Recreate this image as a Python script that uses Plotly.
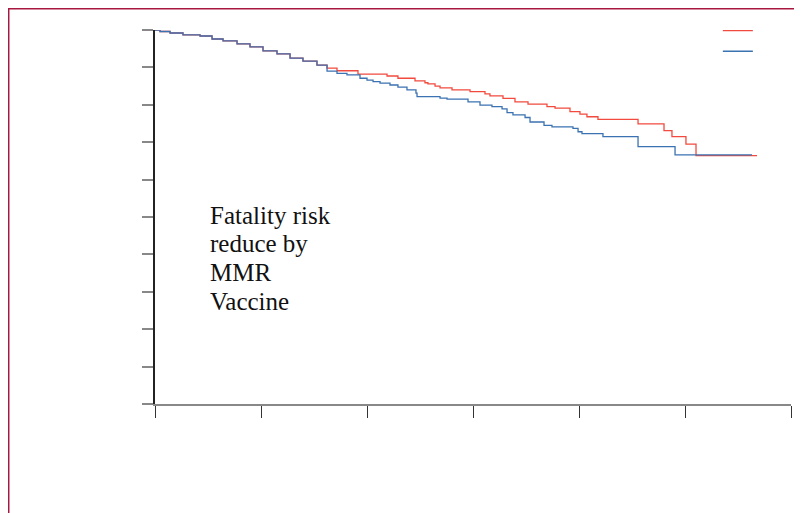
import plotly.graph_objects as go

# Survival (Kaplan-Meier style) data
time_red = [0, 0.047, 0.142, 0.264, 0.425, 0.538, 0.642, 0.774, 0.896, 1.019, 1.151, 1.274, 1.396, 1.528,
            1.623, 1.717, 1.915, 2.189, 2.292, 2.453, 2.547, 2.575, 2.642, 2.689, 2.802, 2.972, 3.113,
            3.160, 3.283, 3.396, 3.519, 3.698, 3.774, 3.915, 4.009, 4.075, 4.179, 4.557, 4.802, 4.877,
            5.009, 5.104, 5.679]
surv_red = [1.0, 0.996, 0.992, 0.987, 0.984, 0.976, 0.971, 0.963, 0.955, 0.944, 0.936, 0.925, 0.917, 0.906,
            0.898, 0.891, 0.882, 0.877, 0.871, 0.864, 0.859, 0.856, 0.850, 0.845, 0.840, 0.835, 0.829,
            0.824, 0.817, 0.808, 0.802, 0.795, 0.791, 0.782, 0.775, 0.768, 0.761, 0.749, 0.731, 0.715,
            0.695, 0.664, 0.664]

time_blue = [0, 0.047, 0.142, 0.264, 0.425, 0.538, 0.642, 0.774, 0.896, 1.019, 1.151, 1.274, 1.396, 1.528,
             1.623, 1.717, 1.811, 1.934, 2.0, 2.057, 2.123, 2.217, 2.292, 2.377, 2.462, 2.472, 2.689,
             2.755, 2.953, 3.066, 3.179, 3.274, 3.321, 3.377, 3.491, 3.538, 3.670, 3.745, 3.943, 3.991,
             4.028, 4.226, 4.557, 4.906, 5.632]
surv_blue = [1.0, 0.996, 0.992, 0.987, 0.984, 0.976, 0.971, 0.963, 0.955, 0.944, 0.936, 0.925, 0.917, 0.906,
             0.890, 0.884, 0.880, 0.871, 0.866, 0.862, 0.858, 0.853, 0.847, 0.840, 0.831, 0.822, 0.818,
             0.815, 0.808, 0.799, 0.795, 0.789, 0.779, 0.773, 0.766, 0.754, 0.745, 0.741, 0.737, 0.728,
             0.723, 0.715, 0.688, 0.666, 0.666]

x_ticks = [0, 1, 2, 3, 4, 5, 6]
y_ticks = [0, 0.1, 0.2, 0.3, 0.4, 0.5, 0.6, 0.7, 0.8, 0.9, 1.0]
note_lines = ["Fatality risk", "reduce by", "MMR", "Vaccine"]

fig = go.Figure()
fig.add_trace(go.Scatter(x=time_red, y=surv_red, mode="lines", line=dict(color="#f24a3e", width=1.3, shape="hv"),
                         name=" ", showlegend=True))
fig.add_trace(go.Scatter(x=time_blue, y=surv_blue, mode="lines", line=dict(color="#3b72b2", width=1.3, shape="hv"),
                         name=" ", showlegend=True))

for i, t in enumerate(note_lines):
    fig.add_annotation(x=0.0833, y=0.4634 - i * 0.077, xref="paper", yref="paper", text=t, showarrow=False,
                       xanchor="left", yanchor="bottom",
                       font=dict(family="Liberation Serif", size=25, color="#111"))

# figure border
fig.add_shape(type="rect", xref="paper", yref="paper", x0=-0.2300, y0=-0.4, x1=1.2, y1=1.0568,
              line=dict(color="#a8173f", width=1.5), layer="below")

fig.update_layout(
    width=802, height=513,
    margin=dict(l=147, r=19, t=22, b=117, autoexpand=False),
    plot_bgcolor="white", paper_bgcolor="white",
    showlegend=True,
    legend=dict(x=0.885, y=1.039, xanchor="left", yanchor="top", bgcolor="rgba(0,0,0,0)",
                font=dict(size=13.5), tracegroupgap=0, itemwidth=30),
    xaxis=dict(range=[0, 6], tickvals=x_ticks, showticklabels=False, ticks="outside", ticklen=12,
               tickcolor="#333", tickwidth=1, showline=True, linecolor="#888", linewidth=2,
               showgrid=False, zeroline=False, fixedrange=True),
    yaxis=dict(range=[0, 1], tickvals=y_ticks, showticklabels=False, ticks="outside", ticklen=11,
               tickcolor="#888", tickwidth=1.5, showline=True, linecolor="#222", linewidth=1.5,
               showgrid=False, zeroline=False, fixedrange=True),
)

fig.write_html("out.html")
